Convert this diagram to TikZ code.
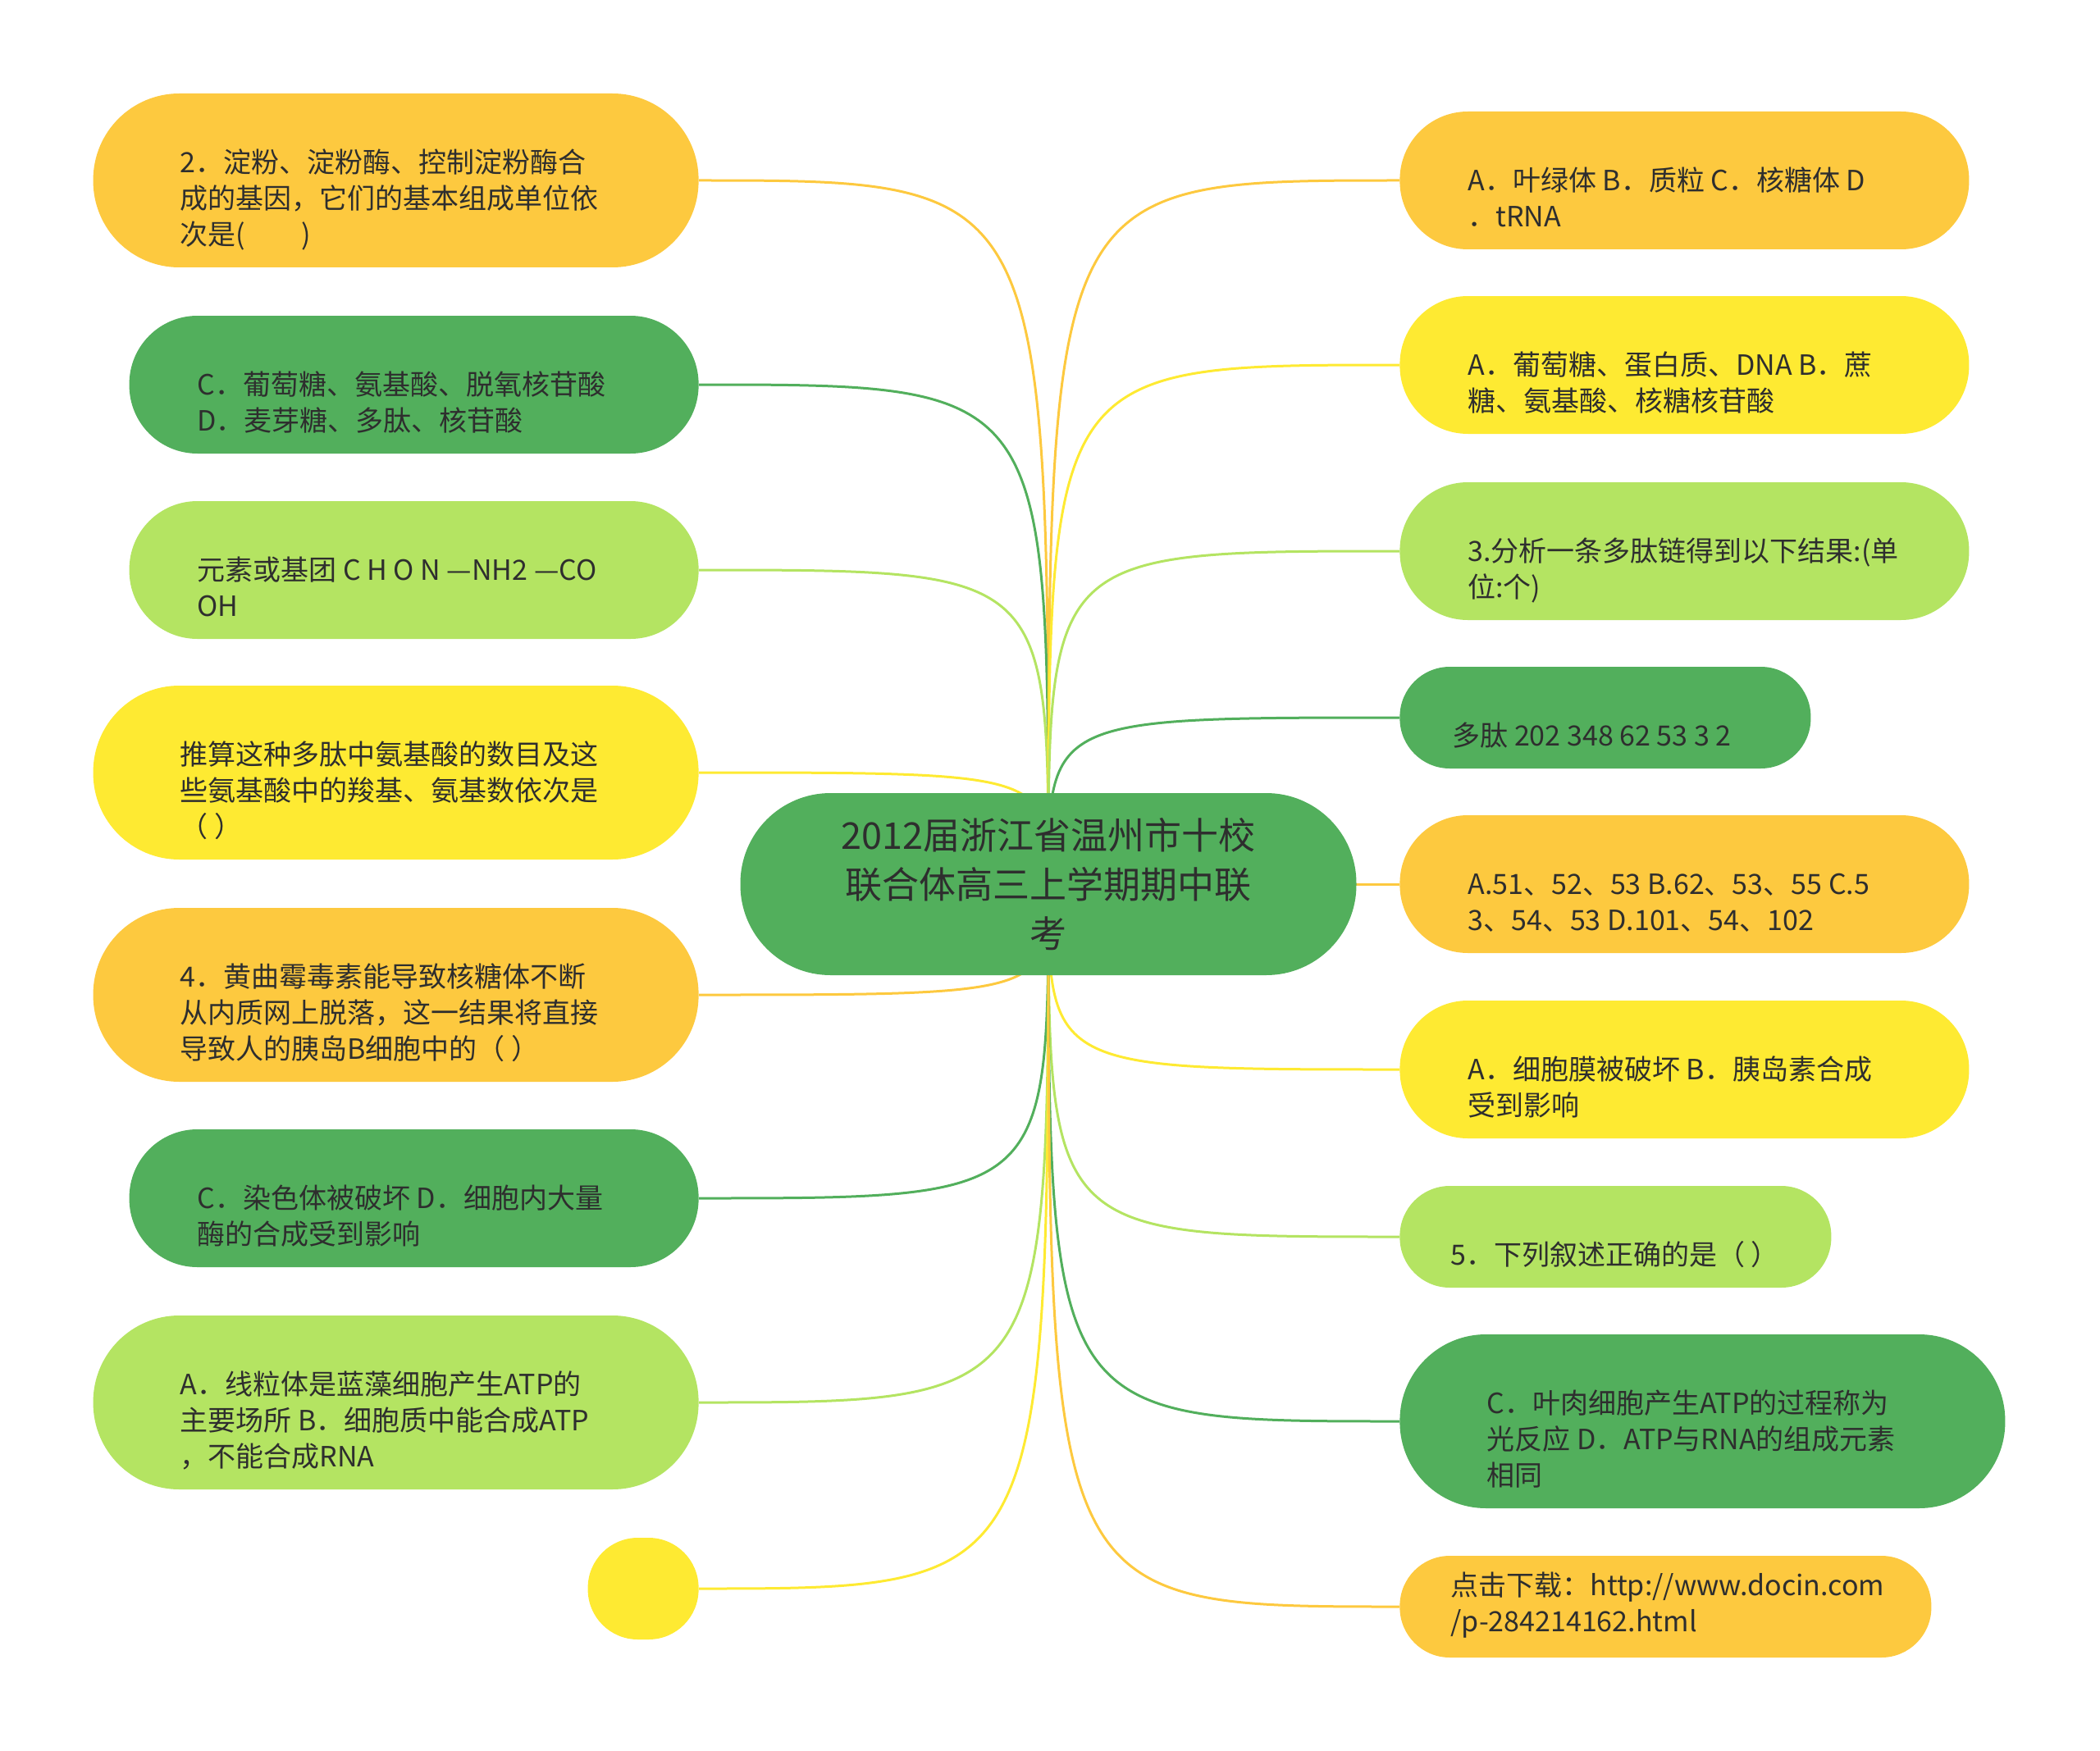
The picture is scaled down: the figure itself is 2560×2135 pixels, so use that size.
\documentclass[tikz,border=0pt]{standalone}
\usepackage{fontspec}
\setmainfont{Noto Sans CJK SC}
\definecolor{leaforange}{RGB}{253,201,63}
\definecolor{leafyellow}{RGB}{254,234,50}
\definecolor{leaflime}{RGB}{180,228,98}
\definecolor{leafgreen}{RGB}{82,175,92}
\definecolor{inkgray}{RGB}{46,46,46}
\usetikzlibrary{calc}
% text block: left aligned in a box of width #2, sitting a little below the middle of its pill
\newcommand{\lowtext}[3][13pt]{\makebox[#2][l]{\raisebox{-#1}[\height][\depth]{\begin{tabular}{@{}l@{}}#3\end{tabular}}}}

\begin{document}
\begin{tikzpicture}[x=0.5pt, y=-0.5pt,
  leaf/.style={fill=#1, text=inkgray, inner sep=0pt, font=\fontsize{17pt}{22pt}\selectfont},
  tall/.style={minimum height=106pt, rounded corners=52.5pt},
  mid/.style={minimum height=84pt, rounded corners=41.5pt},
  low/.style={minimum height=62pt, rounded corners=30.5pt},
  link/.style={draw=#1, line width=1.5pt}]
  \useasboundingbox (0,0) rectangle (2560,2135);
  \coordinate (hub) at (1278,1078);

  % left side
  \node[leaf=leaforange, tall, minimum width=369pt, anchor=east] (l1) at (852,220) {\lowtext{263pt}{2．淀粉、淀粉酶、控制淀粉酶合\\成的基因，它们的基本组成单位依\\次是(　　)}};
  \node[leaf=leafgreen, mid, minimum width=347pt, anchor=east] (l2) at (852,469) {\lowtext{264pt}{C．葡萄糖、氨基酸、脱氧核苷酸\\D．麦芽糖、多肽、核苷酸}};
  \node[leaf=leaflime, mid, minimum width=347pt, anchor=east] (l3) at (852,695) {\lowtext{264pt}{元素或基团 C H O N —NH2 —CO\\OH}};
  \node[leaf=leafyellow, tall, minimum width=369pt, anchor=east] (l4) at (852,942) {\lowtext{263pt}{推算这种多肽中氨基酸的数目及这\\些氨基酸中的羧基、氨基数依次是\\（ ）}};
  \node[leaf=leaforange, tall, minimum width=369pt, anchor=east] (l5) at (852,1213) {\lowtext{263pt}{4．黄曲霉毒素能导致核糖体不断\\从内质网上脱落，这一结果将直接\\导致人的胰岛B细胞中的（ ）}};
  \node[leaf=leafgreen, mid, minimum width=347pt, anchor=east] (l6) at (852,1461) {\lowtext{264pt}{C．染色体被破坏 D．细胞内大量\\酶的合成受到影响}};
  \node[leaf=leaflime, tall, minimum width=369pt, anchor=east] (l7) at (852,1710) {\lowtext{263pt}{A．线粒体是蓝藻细胞产生ATP的\\主要场所 B．细胞质中能合成ATP\\，不能合成RNA}};
  \node[leaf=leafyellow, low, minimum width=67.5pt, anchor=east] (l8) at (852,1937) {};

  % right side
  \node[leaf=leaforange, mid, minimum width=347pt, anchor=west] (r1) at (1706,220) {\lowtext{264pt}{A．叶绿体 B．质粒 C．核糖体 D\\．tRNA}};
  \node[leaf=leafyellow, mid, minimum width=347pt, anchor=west] (r2) at (1706,445) {\lowtext{264pt}{A．葡萄糖、蛋白质、DNA B．蔗\\糖、氨基酸、核糖核苷酸}};
  \node[leaf=leaflime, mid, minimum width=347pt, anchor=west] (r3) at (1706,672) {\lowtext{264pt}{3.分析一条多肽链得到以下结果:(单\\位:个)}};
  \node[leaf=leafgreen, low, minimum width=250.5pt, anchor=west] (r4) at (1706,875) {\lowtext{186.5pt}{多肽 202 348 62 53 3 2}};
  \node[leaf=leaforange, mid, minimum width=347pt, anchor=west] (r5) at (1706,1078) {\lowtext{264pt}{A.51、52、53 B.62、53、55 C.5\\3、54、53 D.101、54、102}};
  \node[leaf=leafyellow, mid, minimum width=347pt, anchor=west] (r6) at (1706,1304) {\lowtext{264pt}{A．细胞膜被破坏 B．胰岛素合成\\受到影响}};
  \node[leaf=leaflime, low, minimum width=263pt, anchor=west] (r7) at (1706,1508) {\lowtext{201pt}{5．下列叙述正确的是（ ）}};
  \node[leaf=leafgreen, tall, minimum width=369pt, anchor=west] (r8) at (1706,1733) {\lowtext{263pt}{C．叶肉细胞产生ATP的过程称为\\光反应 D．ATP与RNA的组成元素\\相同}};
  \node[leaf=leaforange, low, minimum width=324pt, anchor=west] (r9) at (1706,1959) {\lowtext[0pt]{262pt}{点击下载：http://www.docin.com\\/p-284214162.html}};

  % connectors
  \foreach \n/\c in {l1/leaforange, l2/leafgreen, l3/leaflime, l4/leafyellow, l5/leaforange, l6/leafgreen, l7/leaflime, l8/leafyellow}
    \draw[link=\c] (hub) .. controls (hub |- \n.east) .. (\n.east);
  \foreach \n/\c in {r1/leaforange, r2/leafyellow, r3/leaflime, r4/leafgreen, r5/leaforange, r6/leafyellow, r7/leaflime, r8/leafgreen, r9/leaforange}
    \draw[link=\c] (hub) .. controls (hub |- \n.west) .. (\n.west);

  \node[fill=leafgreen, text=inkgray, minimum width=375.5pt, minimum height=111pt, rounded corners=55pt, align=center, font=\fontsize{22.5pt}{30pt}\selectfont] (root) at (hub) {2012届浙江省温州市十校\\联合体高三上学期期中联\\考};
\end{tikzpicture}
\end{document}
